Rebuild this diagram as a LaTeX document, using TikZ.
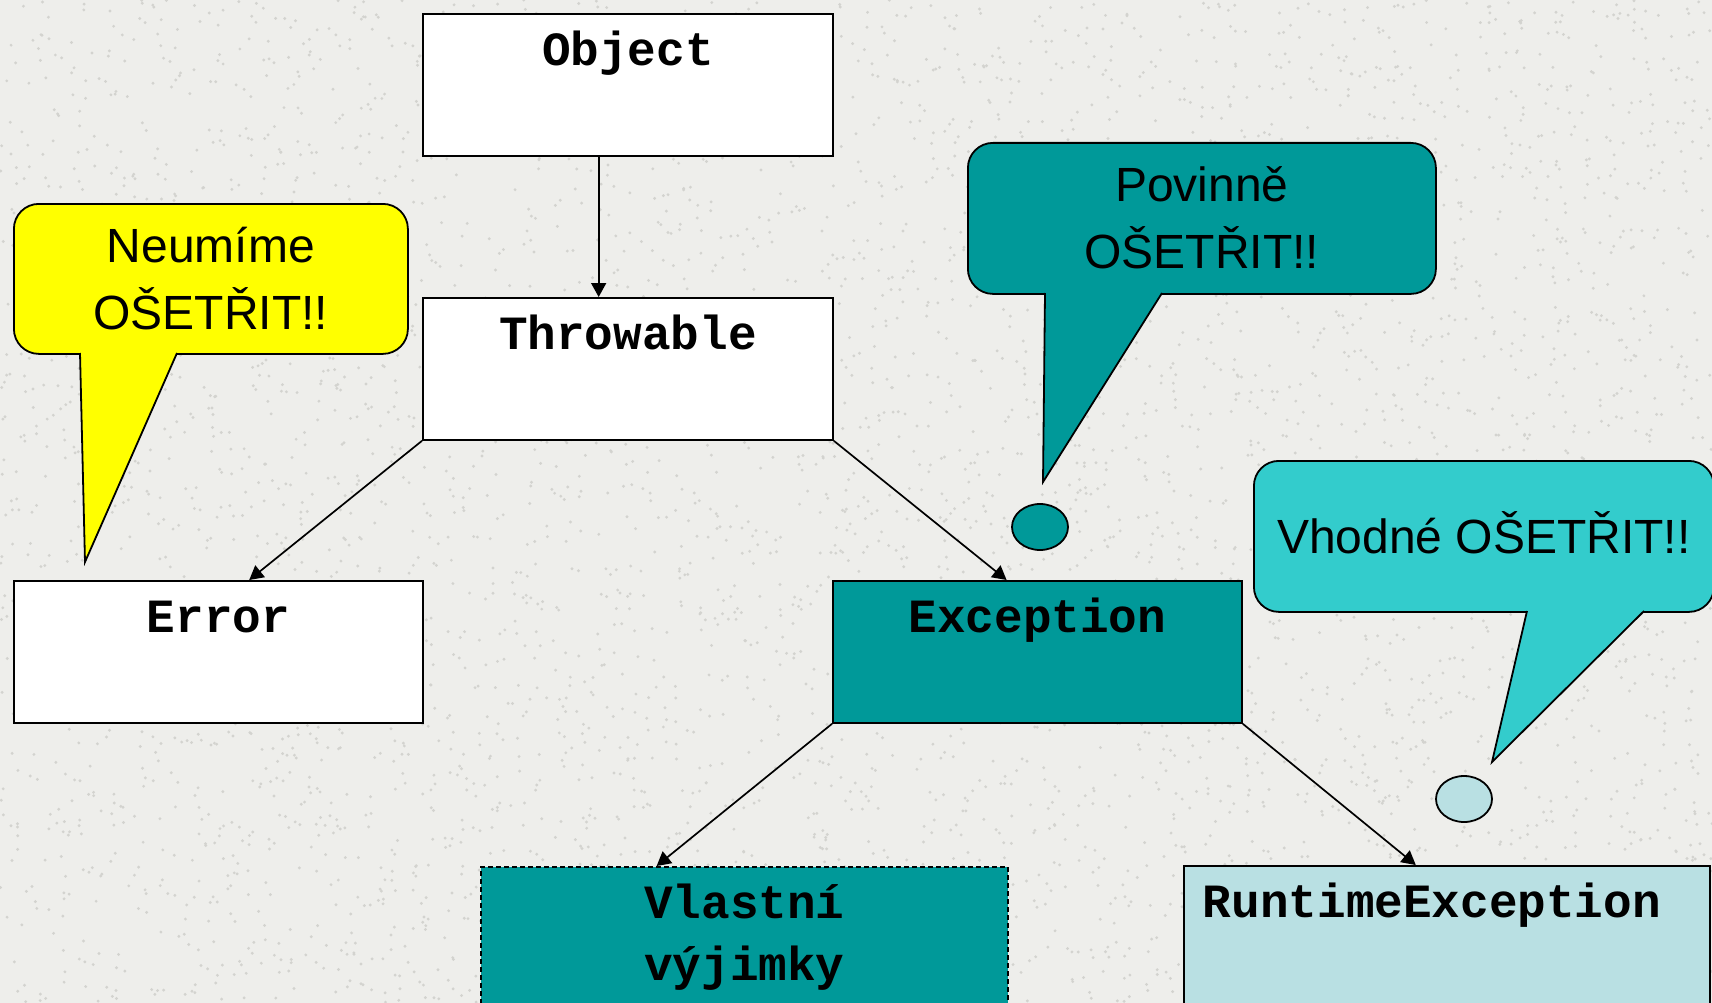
\documentclass[tikz,border=0pt]{standalone}
\usepackage{fontspec}
\setmainfont{Liberation Sans}
\newfontfamily\monob{Liberation Mono}
\usetikzlibrary{arrows.meta,calc,shapes.geometric}
\definecolor{bg}{HTML}{EEEEEB}
\definecolor{speck}{HTML}{D3D3CF}
\definecolor{tealA}{HTML}{009999}
\definecolor{tealB}{HTML}{33CCCC}
\definecolor{pale}{HTML}{B9E0E3}
\definecolor{yel}{HTML}{FFFF00}
\begin{document}
\begin{tikzpicture}[x=1pt,y=-1pt,
  box/.style={draw, line width=1.8pt, inner xsep=0pt, inner ysep=0pt, anchor=north west,
    text height=52pt, text depth=90pt, fill=white,
    font=\monob\bfseries\fontsize{47.7}{62}\selectfont},
  arr/.style={line width=1.7pt, -{Triangle[length=14pt,width=15pt]}},
  bubble/.style={draw, line width=1.8pt, rounded corners=25pt, anchor=north west,
    inner sep=0pt, font=\fontsize{48}{67}\selectfont},
  pointer/.style={line width=1.8pt, line join=miter},
  dot/.style={ellipse, draw, line width=1.8pt, minimum width=56pt, minimum height=46pt, inner sep=0pt},
]
\useasboundingbox (0,0) rectangle (1712,1003);
\clip (0,0) rectangle (1712,1003);
\fill[bg] (0,0) rectangle (1712,1003);
% granite texture
\pgfmathsetseed{42}
\foreach \k in {1,...,5000}{
  \pgfmathsetmacro{\sx}{rnd*1712}
  \pgfmathsetmacro{\sy}{rnd*1003}
  \fill[speck] (\sx,\sy) circle (1.6pt);
}

% class boxes
\node[box, minimum width=410pt] (object) at (422,13) {Object};
\node[box, minimum width=410pt] (throwable) at (422,297) {Throwable};
\node[box, minimum width=409pt] (error) at (13,580) {Error};
\node[box, minimum width=409pt, fill=tealA] (exception) at (832,580) {Exception};
\node[box, minimum width=527pt, fill=tealA, dash pattern=on 5pt off 3pt] (vlastni) at (480,866)
  {\begin{tabular}[t]{@{}c@{}}Vlastní\\výjimky\end{tabular}};
\node[box, minimum width=526pt, fill=pale, inner xsep=19pt] (runtime) at (1183,865)
  {\makebox[488pt][l]{RuntimeException}};

% inheritance arrows
\draw[arr] ($(object.south west)!0.429!(object.south east)$) -- ($(throwable.north west)!0.429!(throwable.north east)$);
\draw[arr] (throwable.south west) -- ($(error.north west)!0.575!(error.north east)$);
\draw[arr] (throwable.south east) -- ($(exception.north west)!0.425!(exception.north east)$);
\draw[arr] (exception.south west) -- ($(vlastni.north west)!0.334!(vlastni.north east)$);
\draw[arr] (exception.south east) -- ($(runtime.north west)!0.441!(runtime.north east)$);

% yellow callout
\node[bubble, fill=yel, minimum width=394pt, text height=59pt, text depth=91pt] (neum) at (13,203)
  {\begin{tabular}[t]{@{}c@{}}Neumíme\\OŠETŘIT!!\end{tabular}};
\coordinate (neumA) at (80,353);
\coordinate (neumB) at (177,353);
\coordinate (neumTip) at (85,562);
\fill[yel] ($(neumA)+(0,-3)$) -- ($(neumB)+(0,-3)$) -- (neumB) -- (neumTip) -- (neumA) -- cycle;
\draw[pointer] (neumA) -- (neumTip) -- (neumB);

% teal callout
\node[bubble, fill=tealA, minimum width=468pt, text height=59pt, text depth=92pt] (povinne) at (967,142)
  {\begin{tabular}[t]{@{}c@{}}Povinně\\OŠETŘIT!!\end{tabular}};
\coordinate (povA) at (1045,293);
\coordinate (povB) at (1162,293);
\coordinate (povTip) at (1043,482);
\fill[tealA] ($(povA)+(0,-3)$) -- ($(povB)+(0,-3)$) -- (povB) -- (povTip) -- (povA) -- cycle;
\draw[pointer] (povA) -- (povTip) -- (povB);
\node[dot, fill=tealA] (povDot) at (1040,527) {};

% light teal callout
\node[bubble, fill=tealB, minimum width=460pt, text height=93pt, text depth=58pt] (vhodne) at (1253,460) {Vhodné OŠETŘIT!!};
\coordinate (vhoA) at (1527,611);
\coordinate (vhoB) at (1644,611);
\coordinate (vhoTip) at (1492,762);
\fill[tealB] ($(vhoA)+(0,-3)$) -- ($(vhoB)+(0,-3)$) -- (vhoB) -- (vhoTip) -- (vhoA) -- cycle;
\draw[pointer] (vhoA) -- (vhoTip) -- (vhoB);
\node[dot, fill=pale] (vhoDot) at (1464,799) {};
\end{tikzpicture}
\end{document}
